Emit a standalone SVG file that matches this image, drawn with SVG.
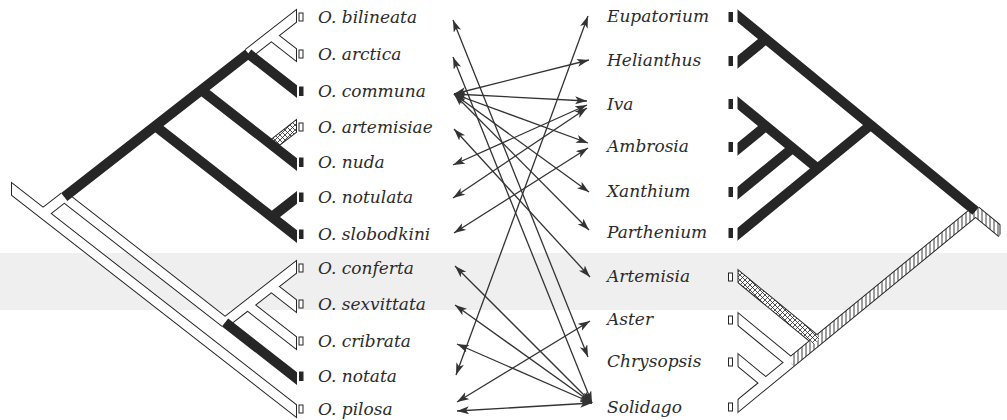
<svg xmlns="http://www.w3.org/2000/svg" width="1007" height="420" viewBox="0 0 1007 420">
<defs>
<style>
.lbl{font-family:"DejaVu Serif","Liberation Serif",serif;font-style:italic;font-size:17px;fill:#2b2b2b}
.ob{stroke:#262626;stroke-width:11;fill:none}
.wi{stroke:#fff;stroke-width:9;fill:none}
.bk{stroke:#262626;stroke-width:10;fill:none}
.xh{stroke:url(#xhatch);stroke-width:9;fill:none}
.vh{stroke:url(#vhatch);stroke-width:9;fill:none}
.con{stroke:#333;stroke-width:1.3;fill:none;marker-start:url(#ah);marker-end:url(#ah)}
.mf{fill:#262626}
.mo{fill:#fff;stroke:#262626;stroke-width:1}
</style>
<marker id="ah" markerUnits="userSpaceOnUse" markerWidth="13" markerHeight="9" viewBox="0 0 13 9" refX="12" refY="4" orient="auto-start-reverse"><path d="M0,0 L12,4 L0,8 L3,4 z" fill="#333"/></marker>
<pattern id="xhatch" patternUnits="userSpaceOnUse" width="5" height="5"><rect width="5" height="5" fill="#fff"/><path d="M0,0 L5,5 M5,0 L0,5" stroke="#262626" stroke-width="0.8"/></pattern>
<pattern id="vhatch" patternUnits="userSpaceOnUse" width="4" height="4"><rect width="4" height="4" fill="#fff"/><path d="M2,0 V4" stroke="#262626" stroke-width="0.9"/></pattern>
<clipPath id="cLo"><rect x="11" y="0" width="286" height="420"/></clipPath>
<clipPath id="cLi"><rect x="12" y="0" width="284" height="420"/></clipPath>
<clipPath id="cRo"><rect x="737.5" y="0" width="263" height="420"/></clipPath>
<clipPath id="cRi"><rect x="738.5" y="0" width="261" height="420"/></clipPath>
</defs>
<rect width="1007" height="420" fill="#fff"/>
<rect x="0" y="253" width="1007" height="57" fill="#efefef"/>

<g id="tree-left">
<g clip-path="url(#cLo)">
<path class="ob" d="M5,183.8 L305,417.8 M43,213.6 L64.3,197 M248.2,53.5 L305,9.2 M271.3,35.5 L305,61.8 M271.9,145 L305,119.2 M64.3,197 L225.1,322.5 M225.1,322.5 L305,260.2 M271.3,286.5 L305,312.8 M247.6,305 L305,349.8"/>
</g>
<g clip-path="url(#cLi)">
<path class="wi" d="M5,183.8 L305,417.8 M43,213.6 L64.3,197 M248.2,53.5 L305,9.2 M271.3,35.5 L305,61.8 M64.3,197 L225.1,322.5 M225.1,322.5 L305,260.2 M271.3,286.5 L305,312.8 M247.6,305 L305,349.8"/>
<path class="xh" d="M271.9,145 L305,119.2"/>
</g>
<g clip-path="url(#cLo)">
<path class="bk" d="M64.3,197 L248.2,53.5 M248.2,53.5 L305,97.8 M201.4,90 L305,170.8 M155.3,126 L305,242.8 M271.9,217 L305,191.2 M225.1,322.5 L305,384.8"/>
</g>
</g>

<g id="tree-right">
<g clip-path="url(#cRo)">
<path class="ob" d="M975.6,211 L1002,232.7 M975.6,211 L790.8,362.5 M790.8,362.5 L729,413.2 M817,341 L729,268.8 M790.8,362.5 L729,311.8 M765.8,383 L729,352.8"/>
</g>
<g clip-path="url(#cRi)">
<path class="vh" d="M975.6,211 L1002,232.7 M975.6,211 L790.8,362.5"/>
<path class="wi" d="M790.8,362.5 L729,413.2 M790.8,362.5 L729,311.8 M765.8,383 L729,352.8"/>
<path class="xh" d="M817,341 L729,268.8"/>
</g>
<g clip-path="url(#cRo)">
<path class="bk" d="M729,8.8 L975.6,211 M765.8,39 L729,69.2 M870.7,125 L729,241.2 M817.7,168.5 L729,95.8 M765.8,126 L729,156.2 M792.7,148 L729,200.2"/>
</g>
</g>

<g id="connectors">
<line class="con" x1="453" y1="20" x2="588" y2="357"/>
<line class="con" x1="453" y1="57" x2="592" y2="403"/>
<line class="con" x1="454" y1="94" x2="589" y2="60"/>
<line class="con" x1="454" y1="94" x2="587" y2="101"/>
<line class="con" x1="454" y1="94" x2="588" y2="143"/>
<line class="con" x1="454" y1="94" x2="589" y2="192"/>
<line class="con" x1="454" y1="94" x2="589" y2="230"/>
<line class="con" x1="454" y1="129" x2="590" y2="277"/>
<line class="con" x1="453" y1="165" x2="587" y2="105"/>
<line class="con" x1="453" y1="198" x2="587" y2="108"/>
<line class="con" x1="454" y1="233" x2="588" y2="148"/>
<line class="con" x1="455" y1="266" x2="592" y2="403"/>
<line class="con" x1="455" y1="305" x2="592" y2="403"/>
<line class="con" x1="457" y1="344" x2="592" y2="403"/>
<line class="con" x1="456" y1="375" x2="588" y2="16"/>
<line class="con" x1="457" y1="402" x2="590" y2="321"/>
<line class="con" x1="457" y1="411" x2="592" y2="403"/>
</g>

<g id="beetle-bilineata"><rect class="mo" x="299" y="13" width="4" height="8"/><text class="lbl" x="318" y="23">O. bilineata</text></g>
<g id="beetle-arctica"><rect class="mo" x="299" y="50" width="4" height="8"/><text class="lbl" x="318" y="60">O. arctica</text></g>
<g id="beetle-communa"><rect class="mf" x="299" y="86.5" width="4.5" height="9.5"/><text class="lbl" x="318" y="97">O. communa</text></g>
<g id="beetle-artemisiae"><rect class="mo" x="299" y="123" width="4" height="8"/><text class="lbl" x="318" y="133">O. artemisiae</text></g>
<g id="beetle-nuda"><rect class="mf" x="299" y="157.5" width="4.5" height="9.5"/><text class="lbl" x="318" y="168">O. nuda</text></g>
<g id="beetle-notulata"><rect class="mf" x="299" y="192.5" width="4.5" height="9.5"/><text class="lbl" x="318" y="203">O. notulata</text></g>
<g id="beetle-slobodkini"><rect class="mf" x="299" y="229.5" width="4.5" height="9.5"/><text class="lbl" x="318" y="240">O. slobodkini</text></g>
<g id="beetle-conferta"><rect class="mo" x="299" y="264" width="4" height="8"/><text class="lbl" x="318" y="274">O. conferta</text></g>
<g id="beetle-sexvittata"><rect class="mo" x="299" y="300" width="4" height="8"/><text class="lbl" x="318" y="310">O. sexvittata</text></g>
<g id="beetle-cribrata"><rect class="mo" x="299" y="337" width="4" height="8"/><text class="lbl" x="318" y="347">O. cribrata</text></g>
<g id="beetle-notata"><rect class="mf" x="299" y="371.5" width="4.5" height="9.5"/><text class="lbl" x="318" y="382">O. notata</text></g>
<g id="beetle-pilosa"><rect class="mo" x="299" y="405" width="4" height="8"/><text class="lbl" x="318" y="415">O. pilosa</text></g>

<g id="host-eupatorium"><text class="lbl" x="607" y="22">Eupatorium</text><rect class="mf" x="728.5" y="12" width="4.5" height="10"/></g>
<g id="host-helianthus"><text class="lbl" x="607" y="66">Helianthus</text><rect class="mf" x="728.5" y="56" width="4.5" height="10"/></g>
<g id="host-iva"><text class="lbl" x="607" y="110">Iva</text><rect class="mf" x="728.5" y="99" width="4.5" height="10"/></g>
<g id="host-ambrosia"><text class="lbl" x="607" y="152">Ambrosia</text><rect class="mf" x="728.5" y="142" width="4.5" height="10"/></g>
<g id="host-xanthium"><text class="lbl" x="607" y="197">Xanthium</text><rect class="mf" x="728.5" y="187" width="4.5" height="10"/></g>
<g id="host-parthenium"><text class="lbl" x="607" y="238">Parthenium</text><rect class="mf" x="728.5" y="228" width="4.5" height="10"/></g>
<g id="host-artemisia"><text class="lbl" x="607" y="282">Artemisia</text><rect class="mo" x="728.5" y="273" width="4" height="8"/></g>
<g id="host-aster"><text class="lbl" x="607" y="325">Aster</text><rect class="mo" x="728.5" y="316" width="4" height="8"/></g>
<g id="host-chrysopsis"><text class="lbl" x="607" y="367">Chrysopsis</text><rect class="mo" x="728.5" y="358" width="4" height="8"/></g>
<g id="host-solidago"><text class="lbl" x="607" y="413">Solidago</text><rect class="mo" x="728.5" y="403" width="4" height="8"/></g>
</svg>
